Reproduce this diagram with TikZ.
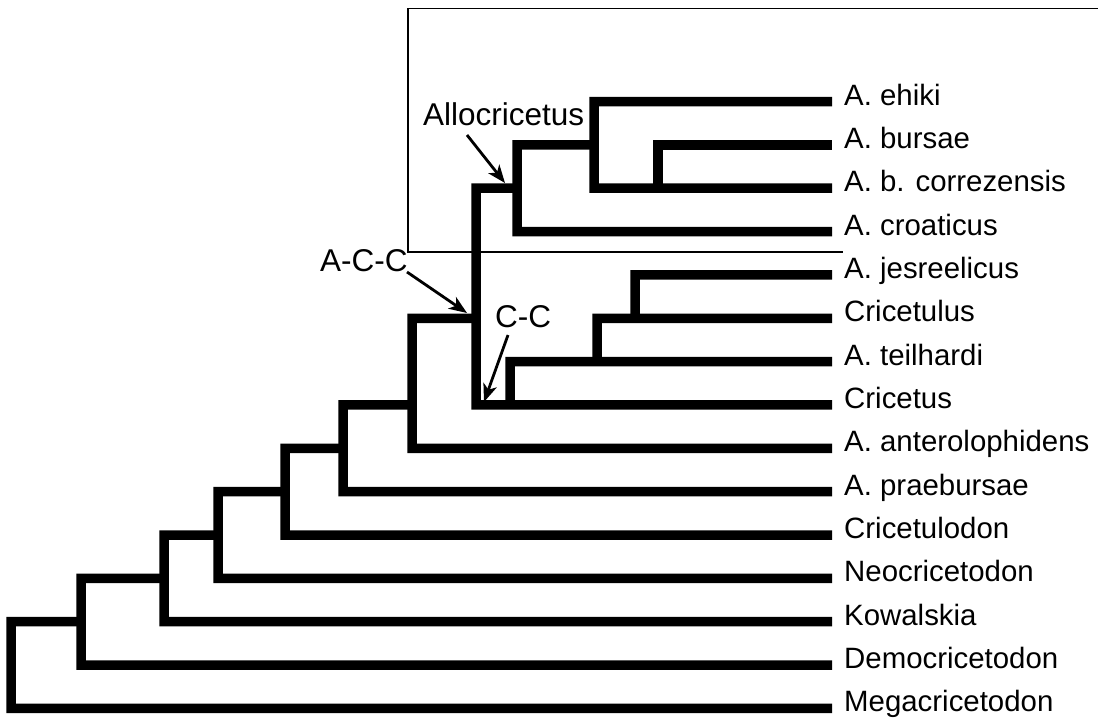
\documentclass[tikz,border=0pt]{standalone}
\usepackage{fontspec}
\setmainfont{Liberation Sans}
\usetikzlibrary{arrows.meta}
\begin{document}
\begin{tikzpicture}[x=1pt,y=-1pt,
  branch/.style={line width=9.5pt, line join=miter, line cap=butt},
  leaf/.style={anchor=west, inner sep=0pt, font=\fontsize{29.4}{35}\selectfont, text height=0.716em, text depth=0pt},
  clade/.style={anchor=base west, inner sep=0pt, font=\fontsize{31.5}{38}\selectfont},
  pointer/.style={line width=2.8pt, -{Stealth[length=18pt,width=14pt,inset=5pt]}},
  frame/.style={line width=1.3pt}]
\useasboundingbox (0,0) rectangle (1098,723);
% leaves
\foreach \t [count=\i from 0] in {A. ehiki, A. bursae, A. b. correzensis, A. croaticus, A. jesreelicus, Cricetulus, A. teilhardi, Cricetus, A. anterolophidens, A. praebursae, Cricetulodon, Neocricetodon, Kowalskia, Democricetodon, Megacricetodon}
  \node[leaf] (L\i) at (844, 101.5+43.35*\i) {\t};
% frame
\draw[frame] (1100,8.5) -- (408,8.5) -- (408,252) -- (843,252);
% tree
\begin{scope}[branch, shorten >=12pt]
\draw (81,621.7) -- (11,621.7) -- (11,708.4) -- (L14.west);
\draw (164,578.35) -- (81,578.35) -- (81,665.05) -- (L13.west);
\draw (218,535.0) -- (164,535.0) -- (164,621.7) -- (L12.west);
\draw (285,491.65) -- (218,491.65) -- (218,578.35) -- (L11.west);
\draw (343,448.3) -- (285,448.3) -- (285,535.0) -- (L10.west);
\draw (412,404.95) -- (343,404.95) -- (343,491.65) -- (L9.west);
\draw (476,318.25) -- (412,318.25) -- (412,448.3) -- (L8.west);
\draw (517,188.2) -- (476,188.2) -- (476,404.95) -- (L7.west);
\draw (510,404.95) -- (510,361.6) -- (L6.west);
\draw (597,361.6) -- (597,318.25) -- (L5.west);
\draw (635,318.25) -- (635,274.9) -- (L4.west);
\draw (594,144.85) -- (517,144.85) -- (517,231.55) -- (L3.west);
\draw[shorten <=12pt] (L0.west) -- (594,101.5) -- (594,188.2) -- (L2.west);
\draw (658,188.2) -- (658,144.85) -- (L1.west);
\end{scope}
% clade labels
\node[clade] (allo) at (423,125) {Allocricetus};
\node[clade] (acc) at (320,271.5) {A-C-C};
\node[clade] (cc) at (495,327.5) {C-C};
\coordinate (alloS) at (467,135);
\coordinate (alloT) at (505,183);
\coordinate (accS) at (407,272);
\coordinate (accT) at (467,313);
\coordinate (ccS) at (508,335);
\coordinate (ccT) at (484,402);
\draw[pointer] (alloS) -- (alloT);
\draw[pointer] (accS) -- (accT);
\draw[pointer] (ccS) -- (ccT);
\end{tikzpicture}
\end{document}
